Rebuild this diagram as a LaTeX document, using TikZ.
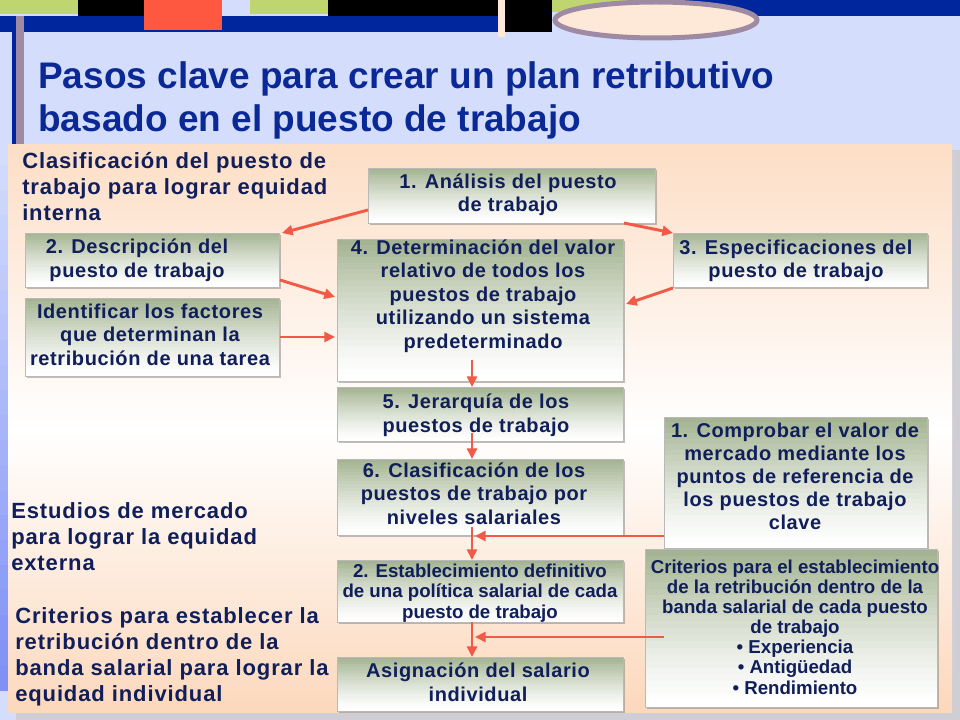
\documentclass[tikz,border=0pt]{standalone}
\usepackage{fontspec}
\setmainfont{Liberation Sans}
\usetikzlibrary{shadows,arrows.meta,calc}

\definecolor{slidebg}{RGB}{212,222,252}
\definecolor{dblue}{RGB}{0,38,158}
\definecolor{lgreen}{RGB}{190,213,112}
\definecolor{sred}{RGB}{255,88,64}
\definecolor{cream}{RGB}{254,233,216}
\definecolor{mauve}{RGB}{158,138,162}
\definecolor{titleblue}{RGB}{10,40,150}
\definecolor{navy}{RGB}{16,30,90}
\definecolor{peach}{RGB}{253,222,198}
\definecolor{peachb}{RGB}{252,216,188}
\definecolor{arrowred}{RGB}{240,90,70}
\definecolor{boxg}{RGB}{164,180,146}
\definecolor{shadowgray}{RGB}{206,206,212}
\definecolor{stripblue}{RGB}{128,144,245}

\tikzset{
  box/.style={draw=gray!55, line width=0.4pt, fill=white,
    drop shadow={shadow xshift=1.5pt, shadow yshift=-1.5pt, fill=black!50},
    inner sep=0, outer sep=0,
    path picture={
      \foreach \k in {0,...,23}{
        \pgfmathsetmacro\pc{100*(1-\k/23)^1.3}
        \pgfmathsetmacro\ka{\k/24}
        \pgfmathsetmacro\kb{(\k+1.1)/24}
        \fill[boxg!\pc!white]
          ($(path picture bounding box.north west)!\ka!(path picture bounding box.south west)$)
          rectangle
          ($(path picture bounding box.north east)!\kb!(path picture bounding box.south east)$);
      }
    }},
  bx/.style 2 args={minimum width=#1*0.75pt, minimum height=#2*0.75pt},
  btxt/.style={font=\fontsize{15}{17.6}\selectfont\bfseries\addfontfeature{LetterSpace=3},
    text=navy, align=center, inner sep=0, anchor=base},
  btxtc/.style={font=\fontsize{14}{15.1}\selectfont\bfseries,
    text=navy, align=center, inner sep=0, anchor=base},
  lbl/.style={font=\fontsize{16.5}{19.5}\selectfont\bfseries\addfontfeature{LetterSpace=4},
    text=navy, align=left, inner sep=0, anchor=base west},
  arr/.style={draw=arrowred, line width=2.2pt, -{Triangle[length=8pt,width=7.5pt]}}
}

\begin{document}
\begin{tikzpicture}[x=0.75pt,y=-0.75pt]
\useasboundingbox (0,0) rectangle (960,720);
% slide background
\fill[slidebg] (0,0) rectangle (960,720);
% top decoration
\fill[lgreen] (0,0) rectangle (78,14);
\fill[black] (78,0) rectangle (144,16);
\fill[lgreen] (250,0) rectangle (328,14);
\fill[black] (328,0) rectangle (498,16);
\fill[dblue] (0,16) rectangle (498,32);
\fill[sred] (144,0) rectangle (222,30);
\fill[dblue] (12,32) rectangle (16,145);
\fill[mauve] (16,16) rectangle (24,145);
\fill[cream] (498,0) rectangle (505,37);
\fill[black] (505,0) rectangle (552,32);
\fill[lgreen] (552,0) rectangle (650,12);
\fill[dblue] (650,0) rectangle (960,16);
\draw[mauve, line width=3.75pt, fill=cream] (656,20) ellipse [x radius=101, y radius=18];
% title
\node[anchor=base west, font=\fontsize{27.75}{32.3}\selectfont\bfseries, text=titleblue,
  align=left, inner sep=0] (title) at (38,132)
  {Pasos clave para crear un plan retributivo\\basado en el puesto de trabajo};
% panel
\fill[shadowgray] (952,150) rectangle (960,720);
\fill[shadowgray] (16,712) rectangle (960,720);
\foreach \k in {0,...,21}{
  \pgfmathsetmacro\pc{100*\k/21}
  \fill[stripblue!\pc!slidebg] (0,{140+\k*25}) rectangle (8,{140+(\k+1.05)*25});
}
\fill[top color=peach, bottom color=white] (8,145) rectangle (952,430);
\fill[top color=white, bottom color=peachb] (8,430) rectangle (952,712);

% boxes
\node[box, bx={287}{55}]  (b1)  at (511.5,195.5) {};
\node[box, bx={254}{54}]  (b2)  at (152,260) {};
\node[box, bx={254}{54}]  (b3)  at (800,260) {};
\node[box, bx={254}{78}]  (bf)  at (152,337) {};
\node[box, bx={286}{142}] (b4)  at (480,310) {};
\node[box, bx={286}{54}]  (b5)  at (480,414) {};
\node[box, bx={286}{76}]  (b6)  at (480,497) {};
\node[box, bx={286}{62}]  (b7)  at (480,591) {};
\node[box, bx={286}{54}]  (b8)  at (480,684) {};
\node[box, bx={263}{131}] (b9)  at (795.5,482.5) {};
\node[box, bx={292}{158}] (b10) at (791,628) {};

% box texts (anchored at the baseline of the last line)
\node[btxt] (t1) at (508,212) {1. Análisis del puesto\\de trabajo};
\node[btxt] (t2) at (137,277) {2. Descripción del\\puesto de trabajo};
\node[btxt] (t3) at (796,278) {3. Especificaciones del\\puesto de trabajo};
\node[btxt] (tf) at (150,365) {Identificar los factores\\que determinan la\\retribución de una tarea};
\node[btxt] (t4) at (483,348) {4. Determinación del valor\\relativo de todos los\\puestos de trabajo\\utilizando un sistema\\predeterminado};
\node[btxt] (t5) at (476,432) {5. Jerarquía de los\\puestos de trabajo};
\node[btxt] (t6) at (474,524) {6. Clasificación de los\\puestos de trabajo por\\niveles salariales};
\node[btxtc] (t7) at (480,618) {2. Establecimiento definitivo\\de una política salarial de cada\\puesto de trabajo};
\node[btxt] (t8) at (478,701) {Asignación del salario\\individual};
\node[btxt, font=\fontsize{15}{17.1}\selectfont\bfseries\addfontfeature{LetterSpace=3}] (t9) at (795,529) {1. Comprobar el valor de\\mercado mediante los\\puntos de referencia de\\los puestos de trabajo\\clave};
\node[btxtc] (t10) at (795,694) {Criterios para el establecimiento\\de la retribución dentro de la\\banda salarial de cada puesto\\de trabajo\\• Experiencia\\• Antigüedad\\• Rendimiento};

% left labels (anchored at the baseline of the last line)
\node[lbl] (l1) at (22,221) {Clasificación del puesto de\\trabajo para lograr equidad\\interna};
\node[lbl] (l2) at (11,570) {Estudios de mercado\\para lograr la equidad\\externa};
\node[lbl] (l3) at (15,701) {Criterios para establecer la\\retribución dentro de la\\banda salarial para lograr la\\equidad individual};

% connectors
\coordinate (a6s) at (472,360);
\coordinate (a7s) at (472,433);
\coordinate (a8s) at (472,527);
\coordinate (a9s) at (472,622);
\coordinate (a10e) at (475,536);
\coordinate (a11s) at (664,637);
\coordinate (a11e) at (475,637);
\draw[arr] ($(b1.west)+(0,14.5)$) -- ($(b2.north east)+(3,0)$);
\draw[arr] ($(b1.south east)+(-31,0)$) -- (b3.north west);
\draw[arr] ($(b2.south east)+(1,-7)$) -- ($(b4.north west)+(-2,58)$);
\draw[arr] ($(bf.east)+(1,0)$) -- ($(bf.east -| b4.west)+(-2,0)$);
\draw[arr] ($(b3.south west)+(0,1)$) -- ($(b4.east)+(3,-6)$);
\draw[arr] (a6s) -- (a6s |- b5.north);
\draw[arr] (a7s) -- (a7s |- b6.north);
\draw[arr] (a8s) -- (a8s |- b7.north);
\draw[arr] (a9s) -- (a9s |- b8.north);
\draw[arr] ($(b9.west)+(0,53.5)$) -- (a10e);
\draw[arr] (a11s) -- (a11e);
\end{tikzpicture}
\end{document}
